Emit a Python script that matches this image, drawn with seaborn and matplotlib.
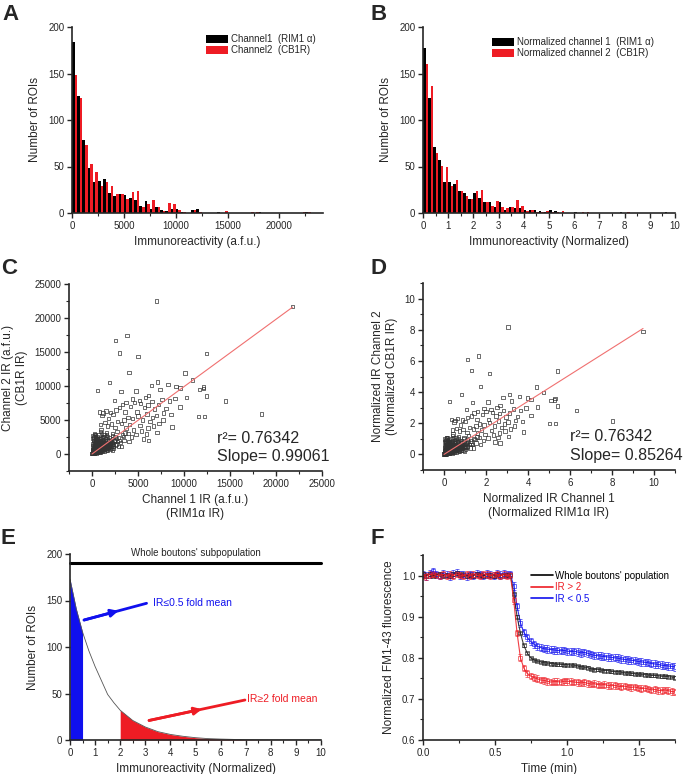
import numpy as np
import pandas as pd
import matplotlib
matplotlib.use("Agg")
import matplotlib.pyplot as plt
from matplotlib.lines import Line2D
from matplotlib.ticker import MultipleLocator
import seaborn as sns

# ---------------- data ----------------
# A: raw immunoreactivity histogram, bins of 500 a.f.u.
HIST_A_BIN = 500
HIST_A_CH1 = [184, 126, 78, 48, 33, 34, 37, 21, 18, 20, 19, 16, 14, 7, 13, 4, 6, 3, 2, 4,
              4, 1, 0, 3, 4, 0, 0, 0, 1, 0, 0, 0, 0, 0, 0, 0, 1, 0, 0, 0,
              0, 0, 0, 0, 0, 1]
HIST_A_CH2 = [148, 124, 73, 53, 44, 29, 33, 29, 20, 20, 15, 23, 24, 6, 10, 14, 6, 2, 11, 10,
              3, 1, 0, 3, 1, 0, 0, 0, 0, 2, 0, 0, 0, 0, 1, 1, 0, 0, 0, 0,
              0, 0, 0, 0, 1, 1]
HIST_A_LABELS = ["Channel1  (RIM1 α)", "Channel2  (CB1R)"]

# B: normalized histogram, bins of 0.2
HIST_B_BIN = 0.2
HIST_B_CH1 = [177, 124, 71, 57, 33, 33, 31, 24, 21, 15, 22, 16, 12, 12, 6, 12, 3, 6, 5, 5,
              3, 3, 3, 2, 1, 3, 2, 0, 0, 0, 1, 0, 0, 0, 0, 0, 0, 0, 0, 1,
              0, 0, 0, 0, 0, 0, 0, 0, 1, 0]
HIST_B_CH2 = [160, 137, 64, 51, 50, 29, 35, 24, 18, 15, 24, 25, 12, 7, 13, 6, 5, 6, 14, 7,
              2, 3, 1, 1, 2, 1, 1, 2, 0, 0, 0, 1, 1, 0, 0, 0, 0, 0, 0, 0,
              1, 0, 0, 0, 0, 0, 0, 0, 0, 0]
HIST_B_LABELS = ["Normalized channel 1  (RIM1 α)", "Normalized channel 2  (CB1R)"]

# C/D: per-ROI immunoreactivity (a.f.u.), channel 1 vs channel 2
C_FAR_CH1 = [7000, 21800, 2550, 3800, 3000, 5000, 12450, 4000, 10100, 1900,
             600, 10900, 12450, 14500, 18450, 11550, 12200, 8700, 12100, 11700,
             12150, 9550, 9150, 8250, 7150, 6450, 4800, 3150, 6150, 7400,
             5150, 2450, 3700, 8050, 10250, 9550, 6600, 5600, 6150, 7050, 5900]
C_FAR_CH2 = [22500, 21650, 16700, 17400, 14850, 14300, 14750, 11950, 11900, 10550,
             9350, 10900, 8550, 7800, 5900, 5500, 5500, 3950, 9600, 9500,
             9850, 9700, 9950, 10250, 10600, 10050, 9250, 9200, 8600, 9450,
             7900, 7900, 7600, 6650, 8350, 6900, 5400, 2200, 2000, 3200, 2950]
C_MID_CH1 = [800, 1200, 1500, 2000, 1100, 1800, 2300, 2600, 3000, 3300,
             3600, 4200, 4600, 4900, 5300, 5700, 6100, 6500, 6800, 7200,
             7600, 3900, 4400, 5000, 5500, 6000, 6300, 7000, 7800, 2800,
             3200, 3500, 1400, 1700, 2100, 2500, 900, 1000, 3700, 4100,
             4500, 5200, 4800, 5400, 6100, 6700, 7300, 3300, 3900, 4300,
             2700, 2200, 1600, 2900, 3500, 4000, 2400, 1900, 2600, 3100,
             8400, 9000, 8600, 7700, 5800, 4400]
C_MID_CH2 = [6200, 6000, 6300, 6100, 5700, 5200, 5800, 6500, 6800, 7300,
             6200, 7000, 7600, 6200, 7400, 6800, 7200, 7700, 6600, 7300,
             8000, 5400, 5200, 5600, 5000, 5900, 4800, 5700, 6000, 4800,
             4500, 5000, 4600, 4100, 4400, 3900, 4300, 3600, 3800, 4300,
             3500, 4200, 2900, 3400, 3800, 4100, 4500, 2800, 3000, 2500,
             3300, 3000, 3200, 2400, 2000, 1800, 1900, 2400, 1500, 1700,
             7800, 8200, 5800, 5000, 8300, 8100]
C_CORE_CH1 = [30, 60, 90, 140, 100, 200, 300, 400, 500, 600,
              700, 800, 900, 1000, 1100, 1200, 1300, 1400, 1500, 1600,
              1700, 1800, 1900, 2000, 2100, 2200, 2300, 150, 250, 350,
              450, 550, 650, 750, 850, 950, 1050, 1150, 1250, 1350,
              1450, 1550, 200, 300, 400, 500, 600, 700, 80, 120,
              180, 220, 280, 320, 380, 420, 480, 520, 580, 620,
              680, 720, 780, 820, 880, 920, 980, 1020, 1080, 1120,
              1180, 1220, 1280, 1320, 1380, 1420, 1480, 1520, 1580, 1620,
              1680, 1720, 1780, 1820, 1880, 1920, 1980, 2050, 2150, 2250,
              2350, 2450, 2550, 2650, 2750, 2850, 2950, 50, 70, 110,
              160, 240, 260, 340, 360, 440, 460, 540, 560, 640,
              660, 740, 760, 840, 860, 940, 960, 1060, 1160, 1240,
              1340, 1440, 1540, 1640, 1740, 1840, 1940, 2040, 2140, 2240,
              2340, 3200, 3400, 3600, 2200, 2500, 1700, 1300, 900,
              20, 40, 70, 130, 170, 230, 270, 310, 350, 390,
              430, 470, 510, 550, 590, 630, 670, 710, 750, 790]
C_CORE_CH2 = [30, 50, 150, 80, 200, 500, 150, 800, 300, 1200,
              500, 900, 250, 1500, 700, 1100, 400, 1800, 900, 1300,
              600, 2100, 1000, 1600, 800, 2300, 1200, 1000, 1800, 2200,
              1500, 2600, 2000, 2800, 1700, 2400, 3000, 2000, 2600, 1400,
              2200, 2800, 2600, 3000, 2900, 2400, 1800, 2200, 400, 700,
              300, 900, 600, 1300, 400, 1100, 700, 1600, 900, 600,
              1400, 1000, 300, 1300, 700, 1900, 1100, 500, 1800, 1300,
              900, 1600, 2100, 700, 1200, 2500, 1000, 1500, 600, 2000,
              1100, 1700, 1400, 800, 1800, 1500, 2000, 1100, 1400, 1700,
              900, 2000, 1300, 2300, 1800, 1100, 2000, 600, 1200, 1500,
              2000, 1200, 350, 900, 1700, 2000, 450, 1100, 200, 1500,
              800, 1700, 1200, 500, 2000, 800, 1400, 1000, 400, 800,
              1000, 700, 1200, 900, 1000, 1200, 700, 1300, 1800, 600,
              1500, 1100, 2600, 3100, 2700, 2600, 2500, 2900, 3300,
              100, 250, 300, 450, 150, 250, 100, 500, 300, 650,
              250, 550, 150, 450, 350, 250, 650, 350, 800, 600]
C_DENSE_CH1 = [10, 25, 45, 65, 85, 105, 125, 145, 165, 185,
               205, 225, 245, 265, 285, 305, 325, 345, 365, 385,
               405, 425, 445, 465, 485, 505, 525, 545, 565, 585,
               605, 625, 645, 665, 685, 705, 725, 745, 765, 785,
               810, 840, 870, 900, 930, 960, 990, 1020, 1050, 1080,
               1110, 1140, 1170, 1200, 1230, 1260, 1290, 1320, 1350, 1380,
               60, 110, 170, 230, 290, 350, 410, 470, 530, 590,
               150, 260, 370, 480, 590, 700, 810, 920, 1030, 1140]
C_DENSE_CH2 = [60, 180, 350, 120, 520, 90, 300, 650, 420, 180,
               800, 350, 1000, 520, 240, 1150, 700, 420, 1400, 900,
               300, 600, 1250, 180, 850, 500, 1900, 650, 1050, 300,
               1350, 800, 550, 1650, 380, 950, 1200, 700, 450, 1100,
               650, 900, 400, 1250, 750, 550, 1600, 850, 1150, 700,
               950, 1400, 600, 1050, 1300, 850, 1500, 1100, 700, 1700,
               2300, 2700, 2000, 2400, 2900, 2100, 2500, 1900, 2200, 2000,
               1600, 1300, 1900, 1700, 2300, 1500, 2200, 1300, 1800, 2400]
MEAN_CH1 = 2300
MEAN_CH2 = 2750
R_SQUARED = 0.76342
SLOPE_RAW = 0.99061
SLOPE_NORM = 0.85264

# E: schematic distribution of normalized IR
E_X = [0, 0.25, 0.5, 0.75, 1, 1.25, 1.5, 1.75, 2, 2.5, 3, 3.5, 4, 4.5, 5, 5.5, 6, 7, 8, 9, 10]
E_Y = [173, 141, 116, 96, 79, 64, 49, 40, 32, 21, 14, 9, 6, 4, 2.5, 1.5, 1, 0.3, 0.1, 0.05, 0.02]
LOW_CUT = 0.5
HIGH_CUT = 2.0
WHOLE_LEVEL = 190

# F: FM1-43 destaining, one frame every 1.4 s
FRAME_MIN = 1.4 / 60
F_WHOLE = [1.005, 1.000, 1.003, 0.999, 1.002, 1.004, 1.000, 1.002, 0.999, 1.003,
           1.006, 1.001, 1.003, 0.999, 1.001, 1.000, 1.004, 1.002, 0.999, 1.002,
           1.001, 0.999, 1.003, 1.000, 1.002, 1.001, 1.001,
           0.955, 0.900, 0.860, 0.830, 0.812, 0.800, 0.795, 0.792, 0.790, 0.788,
           0.787, 0.786, 0.785, 0.784, 0.784, 0.783, 0.783, 0.782, 0.782, 0.780,
           0.778, 0.777, 0.776, 0.773, 0.771, 0.772, 0.770, 0.769, 0.769, 0.767,
           0.766, 0.766, 0.765, 0.763, 0.763, 0.762, 0.761, 0.760, 0.760, 0.759,
           0.758, 0.757, 0.757, 0.756, 0.755, 0.755, 0.754, 0.753, 0.752]
F_HIGH = [1.000, 0.998, 1.002, 1.004, 1.001, 1.000, 1.003, 0.999, 1.002, 1.000,
          1.004, 1.001, 0.999, 1.003, 1.000, 1.002, 1.001, 0.999, 1.004, 1.002,
          1.000, 1.001, 1.003, 0.999, 1.002, 1.000, 1.001,
          0.940, 0.860, 0.800, 0.775, 0.762, 0.756, 0.752, 0.749, 0.746, 0.745,
          0.743, 0.741, 0.742, 0.742, 0.741, 0.743, 0.743, 0.742, 0.741, 0.740,
          0.739, 0.740, 0.738, 0.736, 0.737, 0.735, 0.734, 0.735, 0.733, 0.732,
          0.733, 0.731, 0.730, 0.731, 0.729, 0.728, 0.729, 0.727, 0.725, 0.726,
          0.724, 0.722, 0.723, 0.721, 0.720, 0.722, 0.720, 0.718, 0.717]
F_LOW = [1.002, 0.999, 1.004, 1.010, 1.003, 1.000, 1.005, 1.002, 0.999, 1.004,
         1.007, 1.001, 1.002, 0.998, 1.003, 1.000, 1.005, 1.003, 1.000, 1.004,
         1.002, 1.000, 1.005, 1.001, 1.004, 1.002, 1.003,
         0.975, 0.925, 0.885, 0.862, 0.850, 0.840, 0.833, 0.828, 0.825, 0.822,
         0.821, 0.820, 0.819, 0.818, 0.817, 0.818, 0.816, 0.815, 0.816, 0.814,
         0.812, 0.813, 0.811, 0.808, 0.806, 0.805, 0.804, 0.803, 0.802, 0.801,
         0.800, 0.799, 0.797, 0.796, 0.795, 0.794, 0.793, 0.791, 0.790, 0.789,
         0.788, 0.786, 0.785, 0.784, 0.782, 0.781, 0.780, 0.779, 0.778]
F_SEM_WHOLE = 0.003
F_SEM_HIGH = 0.008
F_SEM_LOW = 0.009

BLACK = "#000000"
RED = "#ee1c24"
BLUE = "#1010ee"

# ---------------- style ----------------
sns.set_style("ticks")
plt.rcParams["font.family"] = ["Liberation Sans", "DejaVu Sans"]
plt.rcParams["axes.linewidth"] = 1.2
plt.rcParams["xtick.major.width"] = 1.0
plt.rcParams["ytick.major.width"] = 1.0
plt.rcParams["xtick.minor.width"] = 0.8
plt.rcParams["ytick.minor.width"] = 0.8
plt.rcParams["xtick.major.size"] = 3.5
plt.rcParams["ytick.major.size"] = 3.5
plt.rcParams["xtick.minor.size"] = 2
plt.rcParams["ytick.minor.size"] = 2

W, H = 685, 774
fig = plt.figure(figsize=(W / 100, H / 100), dpi=100)


def px_axes(left, top, right, bottom):
    return fig.add_axes([left / W, 1 - bottom / H, (right - left) / W, (bottom - top) / H])


def finish(ax, xlabel, ylabel):
    sns.despine(ax=ax)
    ax.tick_params(labelsize=7, pad=2)
    ax.tick_params(which="minor", length=2)
    ax.set_xlabel(xlabel, fontsize=8.5, labelpad=4)
    ax.set_ylabel(ylabel, fontsize=8.5, labelpad=5)


def hist_panel(ax, bin_w, ch1, ch2, labels, anchor):
    n = len(ch1)
    centers = (np.arange(n) + 0.5) * bin_w
    df = pd.DataFrame({
        "ir": np.concatenate([centers, centers]),
        "count": ch1 + ch2,
        "channel": [labels[0]] * n + [labels[1]] * n,
    })
    edges = [float(e) for e in np.arange(n + 1) * bin_w]
    sns.histplot(data=df, x="ir", weights="count", hue="channel",
                 hue_order=labels, bins=edges,
                 multiple="dodge", shrink=1, palette=[BLACK, RED],
                 alpha=1, linewidth=0, ax=ax)
    sns.move_legend(ax, "upper right", bbox_to_anchor=anchor, title=None,
                    frameon=False, fontsize=7, handlelength=2.2,
                    handleheight=0.8, labelspacing=0.1, handletextpad=0.3,
                    borderpad=0, borderaxespad=0)
    ax.set_ylim(0, 200)
    ax.yaxis.set_major_locator(MultipleLocator(50))


# A
axA = px_axes(72, 27, 323, 213)
hist_panel(axA, HIST_A_BIN, HIST_A_CH1, HIST_A_CH2, HIST_A_LABELS, (0.97, 0.96))
axA.set_xlim(0, 24200)
axA.xaxis.set_major_locator(MultipleLocator(5000))
axA.xaxis.set_minor_locator(MultipleLocator(2500))
finish(axA, "Immunoreactivity (a.f.u.)", "Number of ROIs")

# B
axB = px_axes(423, 27, 675, 213)
hist_panel(axB, HIST_B_BIN, HIST_B_CH1, HIST_B_CH2, HIST_B_LABELS, (0.915, 0.945))
axB.set_xlim(0, 10)
axB.xaxis.set_major_locator(MultipleLocator(1))
axB.xaxis.set_minor_locator(MultipleLocator(0.5))
finish(axB, "Immunoreactivity (Normalized)", "Number of ROIs")

# C / D scatter
ch1 = np.array(C_FAR_CH1 + C_MID_CH1 + C_CORE_CH1 + C_DENSE_CH1, dtype=float)
ch2 = np.array(C_FAR_CH2 + C_MID_CH2 + C_CORE_CH2 + C_DENSE_CH2, dtype=float)


def scatter_panel(ax, x, y, slope):
    sns.scatterplot(x=x, y=y, marker="s", s=6, facecolor="none",
                    edgecolor="#333333", linewidth=0.5, ax=ax, zorder=2)
    xl = np.array([0, x.max()])
    sns.lineplot(x=xl, y=slope * xl, color="#f07070", linewidth=0.8, ax=ax, zorder=3)


axC = px_axes(69, 284, 322, 471)
scatter_panel(axC, ch1, ch2, SLOPE_RAW)
axC.set_xlim(-2500, 25000)
axC.set_ylim(-2500, 25000)
for a in (axC.xaxis, axC.yaxis):
    a.set_major_locator(MultipleLocator(5000))
    a.set_minor_locator(MultipleLocator(2500))
axC.text(0.585, 0.175, f"r²= {R_SQUARED}", transform=axC.transAxes,
         fontsize=11.5, va="center", ha="left")
axC.text(0.585, 0.075, f"Slope= {SLOPE_RAW}", transform=axC.transAxes,
         fontsize=11.5, va="center", ha="left")
finish(axC, "Channel 1 IR (a.f.u.)\n(RIM1α IR)", "Channel 2 IR (a.f.u.)\n(CB1R IR)")

axD = px_axes(423, 283, 675, 470)
scatter_panel(axD, ch1 / MEAN_CH1, ch2 / MEAN_CH2, SLOPE_NORM)
axD.set_xlim(-1, 11)
axD.set_ylim(-1, 11)
for a in (axD.xaxis, axD.yaxis):
    a.set_major_locator(MultipleLocator(2))
    a.set_minor_locator(MultipleLocator(1))
axD.text(0.583, 0.18, f"r²= {R_SQUARED}", transform=axD.transAxes,
         fontsize=11.5, va="center", ha="left")
axD.text(0.583, 0.075, f"Slope= {SLOPE_NORM}", transform=axD.transAxes,
         fontsize=11.5, va="center", ha="left")
finish(axD, "Normalized IR Channel 1\n(Normalized RIM1α IR)",
       "Normalized IR Channel 2\n(Normalized CB1R IR)")

# E schematic
axE = px_axes(70, 554, 321, 740)
ex = np.array(E_X)
ey = np.array(E_Y)
low = ex <= LOW_CUT
high = ex >= HIGH_CUT
axE.fill_between(ex[low], 0, ey[low], color=BLUE, linewidth=0)
axE.fill_between(ex[high], 0, ey[high], color=RED, linewidth=0)
sns.lineplot(x=ex, y=ey, color="#555555", linewidth=0.6, ax=axE)
axE.plot([0, 10], [WHOLE_LEVEL, WHOLE_LEVEL], color=BLACK, linewidth=2.2, clip_on=False)
axE.text(5, 201, "Whole boutons' subpopulation", fontsize=7, ha="center", va="center")


def mid_arrow(ax, start, end, color):
    mid = (start[0] + 0.55 * (end[0] - start[0]), start[1] + 0.55 * (end[1] - start[1]))
    ax.plot([start[0], end[0]], [start[1], end[1]], color=color, linewidth=2)
    ax.annotate("", xy=mid, xytext=start,
                arrowprops=dict(arrowstyle="-|>", color=color, lw=2, mutation_scale=11,
                                shrinkA=0, shrinkB=0))


mid_arrow(axE, (0.56, 129), (3.05, 147), BLUE)
axE.text(3.3, 147, "IR≤0.5 fold mean", color=BLUE, fontsize=7.5, va="center")
mid_arrow(axE, (3.15, 21), (6.97, 43), RED)
axE.text(7.07, 44, "IR≥2 fold mean", color=RED, fontsize=7.5, va="center")
axE.set_xlim(0, 10)
axE.set_ylim(0, 200)
axE.xaxis.set_major_locator(MultipleLocator(1))
axE.xaxis.set_minor_locator(MultipleLocator(0.5))
axE.yaxis.set_major_locator(MultipleLocator(50))
finish(axE, "Immunoreactivity (Normalized)", "Number of ROIs")

# F destaining
axF = px_axes(423, 555, 675, 740)
t = np.arange(len(F_WHOLE)) * FRAME_MIN
series = [(F_LOW, F_SEM_LOW, BLUE, "IR < 0.5"),
          (F_WHOLE, F_SEM_WHOLE, "#222222", "Whole boutons' population"),
          (F_HIGH, F_SEM_HIGH, RED, "IR > 2")]
for vals, sem, col, _ in series:
    axF.errorbar(t, vals, yerr=sem, fmt="-s", color=col, ms=2.2, mfc="none",
                 mew=0.5, lw=0.8, elinewidth=0.5, capsize=1.5, capthick=0.5,
                 ecolor=col, alpha=0.85)
handles = [Line2D([], [], color=BLACK, lw=1.2),
           Line2D([], [], color=RED, lw=1.2),
           Line2D([], [], color=BLUE, lw=1.2)]
leg = axF.legend(handles, ["Whole boutons' population", "IR > 2", "IR < 0.5"],
                 loc="upper right", bbox_to_anchor=(0.975, 0.915), frameon=False,
                 fontsize=7, handlelength=2.2, handletextpad=0.2, labelspacing=0.15,
                 borderpad=0, borderaxespad=0)
for txt, col in zip(leg.get_texts(), [BLACK, RED, BLUE]):
    txt.set_color(col)
axF.set_xlim(0, 1.75)
axF.set_ylim(0.6, 1.05)
axF.xaxis.set_major_locator(MultipleLocator(0.5))
axF.xaxis.set_minor_locator(MultipleLocator(0.25))
axF.yaxis.set_major_locator(MultipleLocator(0.1))
axF.yaxis.set_minor_locator(MultipleLocator(0.05))
finish(axF, "Time (min)", "Normalized FM1-43 fluorescence")

# panel letters
for letter, x, y in [("A", 2, 15), ("B", 370, 15), ("C", 1, 268),
                     ("D", 370, 268), ("E", 1, 538), ("F", 370, 538)]:
    fig.text(x / W, 1 - y / H, letter, fontsize=16, fontweight="bold",
             ha="left", va="center")

fig.savefig("out.png", dpi=100)
